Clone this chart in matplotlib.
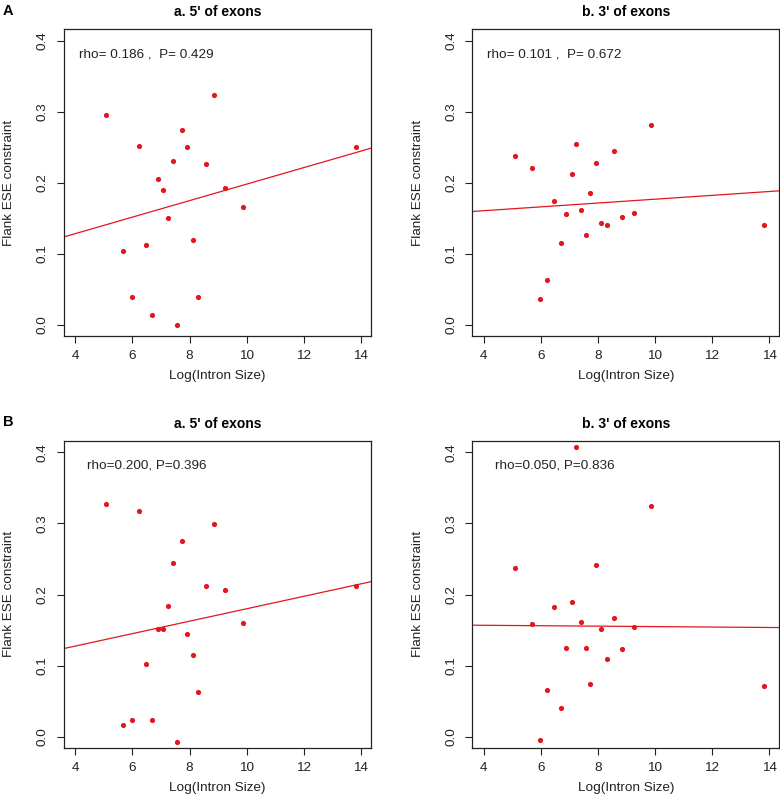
import numpy as np
import matplotlib
matplotlib.use("Agg")
import matplotlib.pyplot as plt

plt.rcParams['font.family'] = ['Liberation Sans', 'DejaVu Sans']

# log intron size, shared by all four panels
log_intron = [5.08, 5.68, 5.99, 6.23, 6.47, 6.70, 6.90, 7.08, 7.25, 7.41,
              7.57, 7.74, 7.92, 8.11, 8.31, 8.56, 8.86, 9.25, 9.88, 13.82]

# flank ESE constraint per panel
ese_A5 = [0.296, 0.104, 0.040, 0.252, 0.113, 0.014, 0.206, 0.190, 0.151, 0.231,
          0.000, 0.275, 0.251, 0.120, 0.040, 0.226, 0.323, 0.193, 0.166, 0.251]
ese_A3 = [0.238, 0.221, 0.037, 0.064, 0.175, 0.115, 0.156, 0.212, 0.254, 0.162,
          0.127, 0.186, 0.228, 0.144, 0.141, 0.245, 0.152, 0.158, 0.282, 0.141]
ese_B5 = [0.327, 0.016, 0.023, 0.318, 0.102, 0.023, 0.152, 0.152, 0.184, 0.245,
          -0.008, 0.276, 0.144, 0.115, 0.063, 0.212, 0.299, 0.207, 0.160, 0.212]
ese_B3 = [0.237, 0.159, -0.005, 0.065, 0.183, 0.040, 0.125, 0.189, 0.408, 0.162,
          0.125, 0.074, 0.242, 0.152, 0.110, 0.167, 0.124, 0.154, 0.325, 0.072]

# regression lines (intercept, slope)
fit_A5 = (0.0822, 0.0116)
fit_A3 = (0.150, 0.0027)
fit_B5 = (0.0926, 0.00874)
fit_B3 = (0.158, -0.00031)

titles = ["a. 5' of exons", "b. 3' of exons"]
stats = ["rho= 0.186 ,  P= 0.429", "rho= 0.101 ,  P= 0.672",
         "rho=0.200, P=0.396", "rho=0.050, P=0.836"]
stat_x = [4.12, 4.13, 4.40, 4.39]

RED = '#e3161c'
FS = 9.7
W, H = 780, 799

fig = plt.figure(figsize=(W / 100, H / 100), dpi=100)


def panel(left_px, top_px, ys, fit, title, stat, sx):
    ax = fig.add_axes([left_px / W, (H - top_px - 307) / H, 307 / W, 307 / H])
    ax.scatter(log_intron, ys, s=14, color=RED, linewidths=0, zorder=3)
    xx = np.array([3.0, 15.0])
    ax.plot(xx, fit[0] + fit[1] * xx, color=RED, lw=0.9, zorder=2)
    ax.set_xlim(3.6, 14.36)
    ax.set_ylim(-0.0155, 0.4165)
    ax.set_xticks([4, 6, 8, 10, 12, 14])
    ax.set_yticks([0.0, 0.1, 0.2, 0.3, 0.4])
    ax.set_yticklabels(['0.0', '0.1', '0.2', '0.3', '0.4'], rotation=90, va='center')
    ax.tick_params(axis='both', length=5, width=0.8, labelsize=FS, color='#222222',
                   labelcolor='#222222')
    ax.tick_params(axis='x', pad=5)
    ax.tick_params(axis='y', pad=6)
    for s in ax.spines.values():
        s.set_linewidth(0.9)
        s.set_color('#222222')
    ax.set_xlabel('Log(Intron Size)', fontsize=FS, color='#222222', va='center')
    ax.xaxis.set_label_coords(0.5, -0.130)
    ax.set_ylabel('Flank ESE constraint', fontsize=FS, color='#222222', va='center')
    ax.yaxis.set_label_coords(-0.178, 0.5)
    ax.text(0.5, 1.056, title, transform=ax.transAxes, ha='center', va='center',
            fontsize=10, fontweight='bold')
    ax.text(sx, 0.381, stat, ha='left', va='center', fontsize=FS, color='#222222')
    return ax


panel(64, 29, ese_A5, fit_A5, titles[0], stats[0], stat_x[0])
panel(472.3, 29, ese_A3, fit_A3, titles[1], stats[1], stat_x[1])
panel(64, 440.7, ese_B5, fit_B5, titles[0], stats[2], stat_x[2])
panel(472.3, 440.7, ese_B3, fit_B3, titles[1], stats[3], stat_x[3])

fig.text(3 / W, 1 - 11 / H, 'A', fontsize=10.5, fontweight='bold', va='center', ha='left')
fig.text(3 / W, 1 - 421.5 / H, 'B', fontsize=10.5, fontweight='bold', va='center', ha='left')

fig.savefig('out.png', dpi=100)
